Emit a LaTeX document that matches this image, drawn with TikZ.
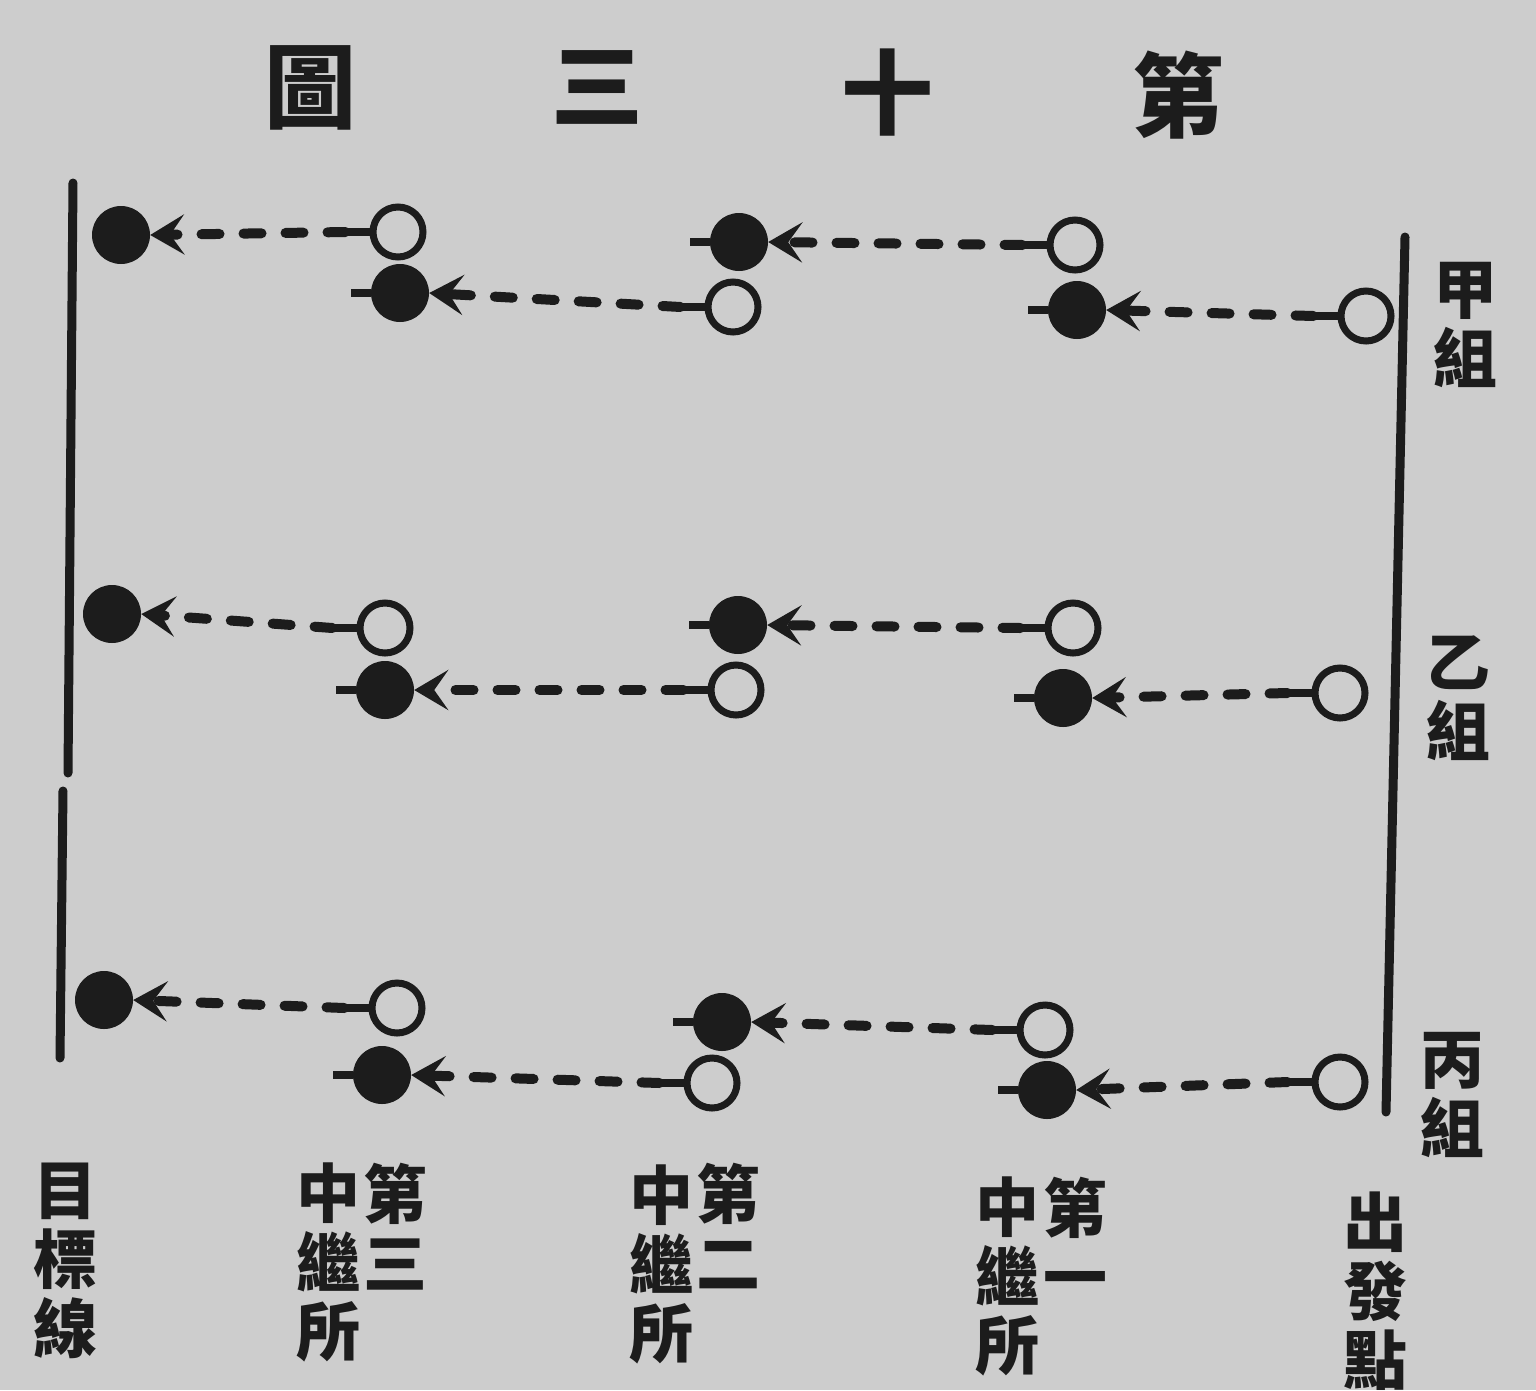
\documentclass[tikz,border=0pt]{standalone}
\usepackage{fontspec}
\newfontfamily\cjk{Noto Sans CJK TC}
\usetikzlibrary{arrows.meta}
\definecolor{paper}{HTML}{CDCDCD}
\definecolor{ink}{HTML}{1C1C1C}
\tikzset{
  opn/.style={circle, draw=ink, line width=7pt, minimum size=50pt, inner sep=0pt, fill=paper},
  fil/.style={circle, fill=ink, minimum size=58pt, inner sep=0pt},
  tail/.style={draw=ink, line width=8pt},
  dashline/.style={draw=ink, line width=10pt, line cap=round, dash pattern=on 18pt off 24pt,
     -{Stealth[length=34pt,width=40pt,inset=14pt]}},
  rule/.style={draw=ink, line width=9pt, line cap=round},
  ttl/.style={font=\cjk\bfseries\fontsize{92}{92}\selectfont, text=ink, inner sep=0pt},
  lbl/.style={font=\cjk\bfseries\fontsize{64}{69}\selectfont, text=ink, inner sep=0pt, align=center}
}
\begin{document}
\begin{tikzpicture}[x=1pt,y=-1pt]
\fill[paper] (0,0) rectangle (1536,1390);
\useasboundingbox (0,0) rectangle (1536,1390);

% title
\node[ttl] (t1) at (310,88) {圖};
\node[ttl] (t2) at (597,87) {三};
\node[ttl] (t3) at (887,93) {十};
\node[ttl] (t4) at (1178,95) {第};

% target line and start line
\coordinate (la) at (73,183);
\coordinate (lb) at (68,773);
\coordinate (lc) at (63,791);
\coordinate (ld) at (60,1058);
\coordinate (ra) at (1405,237);
\coordinate (rb) at (1386,1112);
\draw[rule] (la) -- (lb);
\draw[rule] (lc) -- (ld);
\draw[rule] (ra) -- (rb);

% circles: open = start, filled = arrival
\foreach \n/\ox/\oy/\fx/\fy/\stub in {
  1/398/232/121/235/0,
  2/1075/245/739/242/1,
  3/733/307/400/293/1,
  4/1366/316/1077/310/1,
  5/385/628/112/614/0,
  6/1073/628/738/625/1,
  7/736/690/385/690/1,
  8/1340/693/1063/698/1,
  9/397/1008/104/1000/0,
  10/1045/1030/722/1022/1,
  11/712/1083/382/1075/1,
  12/1340/1082/1047/1090/1}{
  \node[opn] (o\n) at (\ox,\oy) {};
  \node[fil] (f\n) at (\fx,\fy) {};
  \draw[tail] (o\n.west) -- ++(-24,0) coordinate (ot\n);
  \ifnum\stub=1 \draw[tail] (f\n.west) -- ++(-20,0) coordinate (ft\n); \fi
  \draw[dashline] (ot\n) -- (f\n.east);
}

% group labels
\node[lbl] (g1) at (1465,325) {甲\\組};
\node[lbl] (g2) at (1458,698) {乙\\組};
\node[lbl] (g3) at (1452,1095) {丙\\組};

% bottom labels
\node[lbl, anchor=north] (b1) at (65,1163) {目\\標\\線};
\node[lbl, anchor=north] (b2r) at (395,1163) {第\\三};
\node[lbl, anchor=north] (b2l) at (328,1163) {中\\繼\\所};
\node[lbl, anchor=north] (b3r) at (728,1163) {第\\二};
\node[lbl, anchor=north] (b3l) at (661,1165) {中\\繼\\所};
\node[lbl, anchor=north] (b4r) at (1075,1177) {第\\一};
\node[lbl, anchor=north] (b4l) at (1007,1177) {中\\繼\\所};
\node[lbl, anchor=north] (b5) at (1375,1192) {出\\發\\點};
\end{tikzpicture}
\end{document}
